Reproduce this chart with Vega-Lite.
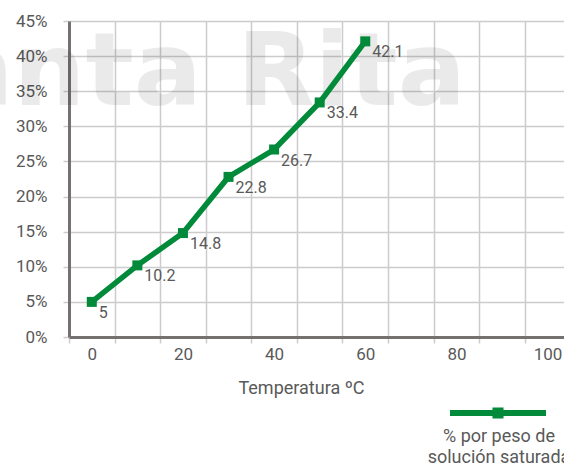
{
  "$schema": "https://vega.github.io/schema/vega-lite/v6.json",
  "width": 495,
  "height": 316,
  "autosize": {"type": "none"},
  "padding": {"left": 69, "top": 21, "right": 0, "bottom": 128},
  "background": "white",
  "config": {
    "view": {"stroke": null},
    "font": "Roboto",
    "axis": {"labelFont": "Roboto", "titleFont": "Roboto", "labelColor": "#595959", "titleColor": "#595959", "labelFontSize": 17, "titleFontSize": 18, "titleFontWeight": "normal", "gridColor": "#cccccc", "gridWidth": 1.5, "tickColor": "#cccccc", "tickWidth": 1.5, "domainColor": "#767171", "domainWidth": 3, "labelOverlap": false}
  },
  "datasets": {
    "serie": [
      {"temp": 0, "pct": 5, "label": "5", "serie": "% por peso de solución saturada"},
      {"temp": 10, "pct": 10.2, "label": "10.2", "serie": "% por peso de solución saturada"},
      {"temp": 20, "pct": 14.8, "label": "14.8", "serie": "% por peso de solución saturada"},
      {"temp": 30, "pct": 22.8, "label": "22.8", "serie": "% por peso de solución saturada"},
      {"temp": 40, "pct": 26.7, "label": "26.7", "serie": "% por peso de solución saturada"},
      {"temp": 50, "pct": 33.4, "label": "33.4", "serie": "% por peso de solución saturada"},
      {"temp": 60, "pct": 42.1, "label": "42.1", "serie": "% por peso de solución saturada"}
    ],
    "marca": [
      {"temp": 17, "pct": 33, "texto": "Santa Rita"}
    ]
  },
  "encoding": {
    "x": {"field": "temp", "type": "quantitative", "scale": {"domain": [-5, 103.6], "nice": false, "zero": false},
      "axis": {
        "values": [-5, 0, 5, 10, 15, 20, 25, 30, 35, 40, 45, 50, 55, 60, 65, 70, 75, 80, 85, 90, 95, 100],
        "labelExpr": "datum.value % 20 == 0 ? datum.label : ''",
        "gridOpacity": {"condition": {"test": "datum.value % 10 != 0", "value": 1}, "value": 0},
        "tickOpacity": {"condition": {"test": "datum.value % 10 != 0", "value": 1}, "value": 0},
        "tickSize": 6,
        "labelPadding": 3,
        "labelFlush": false,
        "labelOverlap": false,
        "title": "Temperatura ºC",
        "titleX": 232,
        "titlePadding": 17
      }},
    "y": {"field": "pct", "type": "quantitative", "scale": {"domain": [0, 45], "nice": false, "zero": true},
      "axis": {
        "values": [0, 5, 10, 15, 20, 25, 30, 35, 40, 45],
        "labelExpr": "datum.value + '%'",
        "tickSize": 6,
        "labelPadding": 16,
        "labelOverlap": false,
        "title": null
      }}
  },
  "layer": [
    {
      "data": {"name": "marca"},
      "mark": {"type": "text", "font": "DejaVu Sans", "fontWeight": "bold", "fontSize": 101, "fill": "#000000", "opacity": 0.08, "align": "center", "baseline": "alphabetic"},
      "encoding": {
        "text": {"field": "texto"}
      }
    },
    {
      "data": {"name": "serie"},
      "mark": {"type": "line", "color": "#008a3a", "strokeWidth": 5.5}
    },
    {
      "data": {"name": "serie"},
      "mark": {"type": "point", "shape": "square", "filled": true, "size": 100, "opacity": 1},
      "encoding": {
        "color": {"field": "serie", "type": "nominal", "scale": {"range": ["#008a3a"]},
          "legend": {
            "orient": "none",
            "legendX": 359,
            "legendY": 386,
            "symbolType": "M-8,-0.5L8,-0.5L8,0.5L-8,0.5Z M-0.92,-0.92L0.92,-0.92L0.92,0.92L-0.92,0.92Z",
            "symbolSize": 144,
            "symbolOffset": 41,
            "symbolFillColor": "#008a3a",
            "symbolStrokeWidth": 0,
            "symbolOpacity": 1,
            "labelExpr": "''",
            "title": ["% por peso de", "solución saturada"],
            "titleOrient": "bottom",
            "titleAlign": "center",
            "titleAnchor": "middle",
            "titleFont": "Roboto",
            "titleFontSize": 18,
            "titleFontWeight": "normal",
            "titleColor": "#595959",
            "titleLineHeight": 21,
            "titlePadding": 9
          }}
      }
    },
    {
      "data": {"name": "serie"},
      "mark": {"type": "text", "align": "left", "baseline": "middle", "dx": 7, "dy": 11, "fontSize": 16, "color": "#595959", "font": "Roboto"},
      "encoding": {
        "text": {"field": "label"}
      }
    }
  ]
}
